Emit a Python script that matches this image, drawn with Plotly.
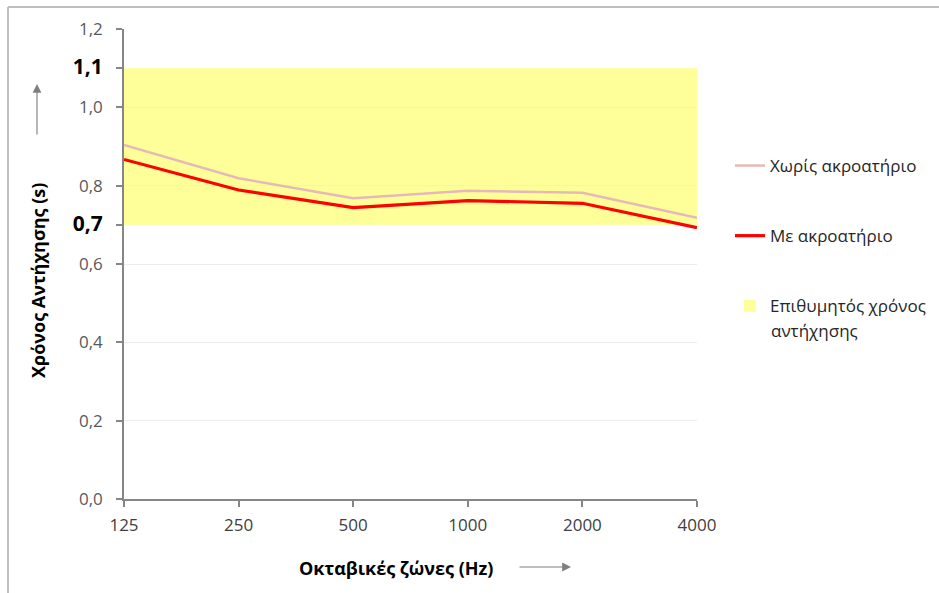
import plotly.graph_objects as go

bands = ["125", "250", "500", "1000", "2000", "4000"]
without_audience = [0.904, 0.819, 0.768, 0.787, 0.782, 0.718]
with_audience = [0.867, 0.789, 0.744, 0.762, 0.755, 0.693]
band_low = 0.7
band_high = 1.1
y_ticks = [0.0, 0.2, 0.4, 0.6, 0.7, 0.8, 1.0, 1.1, 1.2]
y_grid = [0.2, 0.4, 0.6, 0.8, 1.0, 1.2]
bold_ticks = [0.7, 1.1]

x_idx = list(range(len(bands)))

def fmt(v):
    s = f"{v:.1f}".replace(".", ",")
    if v in bold_ticks:
        return f"<span style='font-size:21px;color:#000000'><b>{s}</b></span>"
    return s

FONT = "Open Sans"

def px(x):
    return (x - 124) / 573

def py(y):
    return (499 - y) / 470

fig = go.Figure()
fig.add_trace(go.Scatter(
    x=x_idx, y=without_audience, mode="lines", name="Χωρίς ακροατήριο",
    line=dict(color="#e6b9b8", width=2.5), legendgroup="a"))
fig.add_trace(go.Scatter(
    x=x_idx, y=with_audience, mode="lines", name="Με ακροατήριο",
    line=dict(color="#ff0000", width=3.2), legendgroup="b"))
fig.add_trace(go.Bar(
    x=[None], y=[None], name="Επιθυμητός χρόνος",
    marker=dict(color="#ffff99", line=dict(width=0)), legendgroup="c"))

fig.add_shape(type="rect", xref="x", yref="y", x0=x_idx[0], x1=x_idx[-1],
              y0=band_low, y1=band_high, fillcolor="#ffff99",
              line=dict(width=0), layer="below")

# chart border (top and left edges visible)
fig.add_shape(type="line", xref="paper", yref="paper", x0=px(8), x1=1.5,
              y0=py(7), y1=py(7), line=dict(color="#bfbfbf", width=2))
fig.add_shape(type="line", xref="paper", yref="paper", x0=px(8), x1=px(8),
              y0=-0.3, y1=py(7), line=dict(color="#bfbfbf", width=2))

fig.update_layout(
    width=939, height=593,
    margin=dict(l=124, r=242, t=29, b=94, autoexpand=False),
    paper_bgcolor="white", plot_bgcolor="white",
    font=dict(family=FONT, size=16, color="#595959"),
    showlegend=True,
    legend=dict(x=px(730), y=py(148), xanchor="left", yanchor="top",
                tracegroupgap=45, font=dict(size=17, color="#262626"),
                traceorder="grouped", bgcolor="rgba(0,0,0,0)",
                itemwidth=30),
    xaxis=dict(range=[0, 5], tickvals=x_idx, ticktext=bands,
               showgrid=False, zeroline=False, showline=True,
               linecolor="#868686", linewidth=1.5, ticks="outside",
               ticklen=6, tickcolor="#868686", tickwidth=1.5,
               ticklabelstandoff=4,
               tickfont=dict(size=17, color="#404040")),
    yaxis=dict(range=[0, 1.2], tickvals=y_ticks,
               ticktext=[fmt(v) for v in y_ticks],
               showgrid=False, zeroline=False, showline=True,
               linecolor="#868686", linewidth=1.5, ticks="outside",
               ticklen=6, tickcolor="#868686", tickwidth=1.5,
               ticklabelstandoff=10,
               tickfont=dict(size=17, color="#595959"),
               minor=dict(tickvals=y_grid, showgrid=True,
                          gridcolor="#ededed", gridwidth=1.2, ticks="")),
    annotations=[
        dict(text="αντήχησης", xref="paper", yref="paper",
             x=px(769), y=py(331), showarrow=False,
             xanchor="left", yanchor="middle",
             font=dict(size=17, color="#262626")),
        dict(text="<b>Χρόνος Αντήχησης (s)</b>", xref="paper", yref="paper",
             x=px(38), y=py(281), textangle=-90, showarrow=False,
             xanchor="center", yanchor="middle",
             font=dict(size=18, color="#000000")),
        dict(text="", xref="paper", yref="paper", x=px(37), y=py(84),
             ax=0, ay=52, showarrow=True, arrowhead=2, arrowsize=1.6,
             arrowwidth=1.1, arrowcolor="#7f7f7f"),
        dict(text="<b>Οκταβικές ζώνες (Hz)</b>", xref="paper", yref="paper",
             x=px(396), y=py(568), showarrow=False,
             xanchor="center", yanchor="middle",
             font=dict(size=18, color="#000000")),
        dict(text="", xref="paper", yref="paper", x=px(571), y=py(567),
             ax=-53, ay=0, showarrow=True, arrowhead=2, arrowsize=1.6,
             arrowwidth=1.1, arrowcolor="#7f7f7f"),
    ],
)

fig.write_html("out.html")
